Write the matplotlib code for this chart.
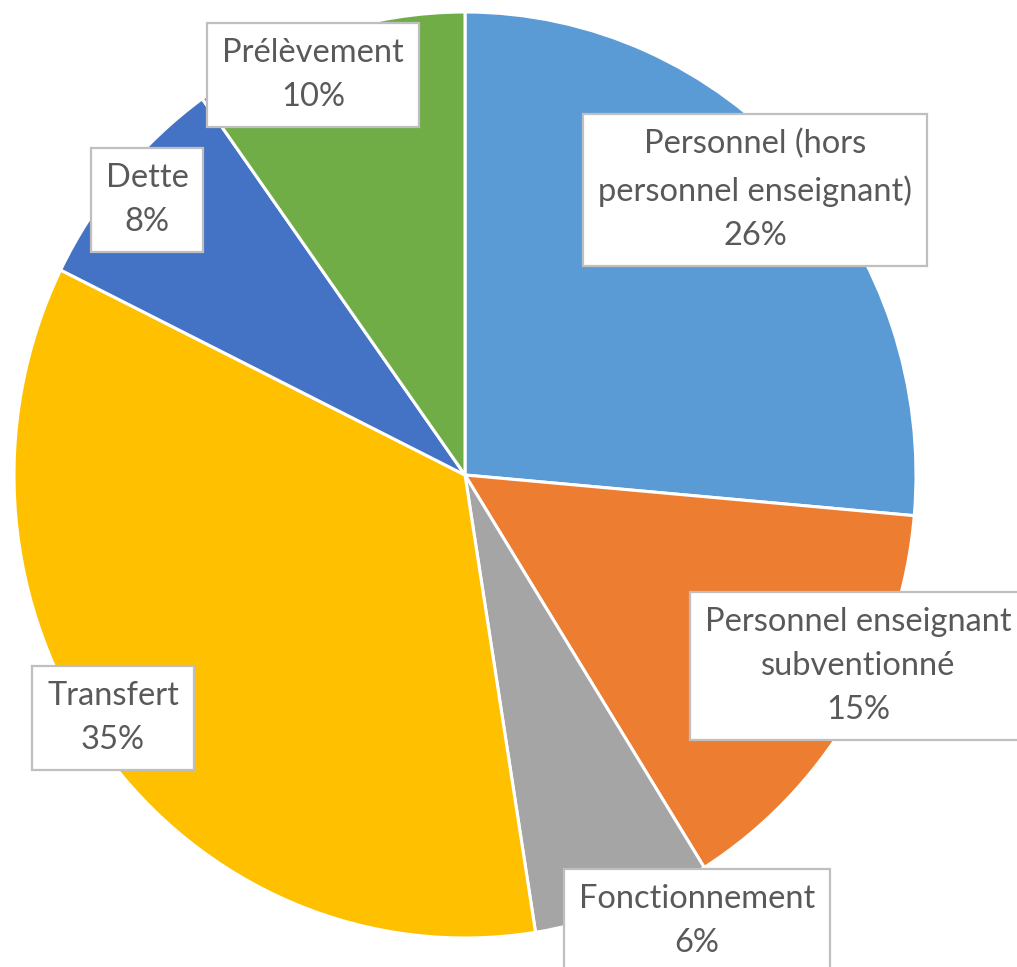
import matplotlib
matplotlib.use("Agg")
import matplotlib.pyplot as plt

categories = ["Personnel (hors\npersonnel enseignant)", "Personnel enseignant\nsubventionné",
              "Fonctionnement", "Transfert", "Dette", "Prélèvement"]
values = [26.4, 14.7, 6.4, 34.8, 7.8, 9.9]
colors = ["#5B9BD5", "#ED7D31", "#A5A5A5", "#FFC000", "#4472C4", "#70AD47"]

W, H = 1017, 967
fig = plt.figure(figsize=(W / 100, H / 100), dpi=100)
fig.patch.set_facecolor("white")

# pie centre (465,475) px, radius 451 px horizontally, 463 px vertically
cx, cy, rx, ry = 465, 475, 451, 463
ax = fig.add_axes([(cx - rx) / W, 1 - (cy + ry) / H, 2 * rx / W, 2 * ry / H])
ax.pie(values, colors=colors, startangle=90, counterclock=False,
       wedgeprops=dict(edgecolor="white", linewidth=2.2))
ax.set_aspect("auto")
ax.set_xlim(-1, 1)
ax.set_ylim(-1, 1)
ax.axis("off")

# label centres in pixels
label_pos = [(755, 190), (858, 666), (697, 921), (113, 718), (147, 200), (313, 75)]
total = sum(values)
for cat, v, (px, py) in zip(categories, values, label_pos):
    txt = f"{cat}\n{round(v / total * 100):d}%"
    fig.text(px / W, 1 - py / H, txt, ha="center", va="center",
             fontsize=23.5, family="Lato", color="#595959", linespacing=1.6,
             bbox=dict(boxstyle="square,pad=0.45", facecolor="white",
                       edgecolor="#BFBFBF", linewidth=1.6))

fig.savefig("out.png", dpi=100)
